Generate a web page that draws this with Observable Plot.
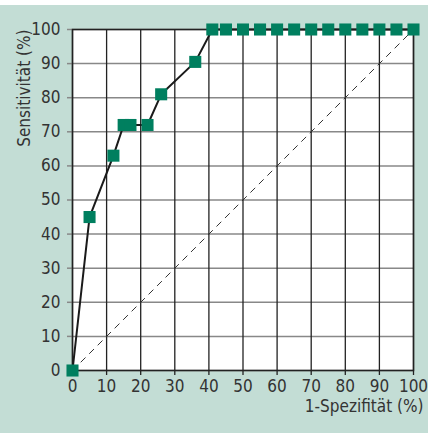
<!DOCTYPE html>
<html>
<head>
<meta charset="utf-8">
<script src="https://cdn.jsdelivr.net/npm/d3@7"></script>
<script src="https://cdn.jsdelivr.net/npm/@observablehq/plot@0.6"></script>
<style>
  html, body { margin: 0; padding: 0; background: #ffffff; }
  body { padding-top: 5px; }
  #chart svg { display: block; }
</style>
</head>
<body>
<div id="chart"></div>
<script>
// 1-Spezifität (%) and Sensitivität (%) of the ROC points
const spez = [0, 5, 12, 15, 17, 22, 26, 36, 41, 45, 50, 55, 60, 65, 70, 75, 80, 85, 90, 95, 100];
const sens = [0, 45, 63, 72, 72, 72, 81, 90.5, 100, 100, 100, 100, 100, 100, 100, 100, 100, 100, 100, 100, 100];
const diagX = [0, 100];
const diagY = [0, 100];
const ticks = [0, 10, 20, 30, 40, 50, 60, 70, 80, 90, 100];
const xLabel = "1-Spezifität (%)";
const yLabel = "Sensitivität (%)";

const points = spez.map((x, i) => ({x, y: sens[i]}));
const diag = diagX.map((x, i) => ({x, y: diagY[i]}));

const chart = Plot.plot({
  width: 428,
  height: 428,
  marginLeft: 72,
  marginRight: 15,
  marginTop: 24,
  marginBottom: 63,
  style: {
    background: "#c3ddd5",
    fontFamily: "'Liberation Sans Narrow', 'DejaVu Sans Condensed', sans-serif",
    fontSize: "17px",
    color: "#333"
  },
  x: {domain: [0, 100]},
  y: {domain: [0, 100]},
  marks: [
    Plot.frame({fill: "white", stroke: null}),
    Plot.gridY(ticks, {stroke: "#888", strokeOpacity: 1, strokeWidth: 1.5}),
    Plot.gridX(ticks, {stroke: "#222", strokeOpacity: 1, strokeWidth: 1.3}),
    Plot.axisX(ticks, {tickSize: 5, tickPadding: 4, label: null, stroke: "#222", strokeWidth: 1.3}),
    Plot.axisY(ticks, {tickSize: 5, tickPadding: 7, label: null, stroke: "#888", strokeWidth: 1.5}),
    Plot.frame({stroke: "#222", strokeWidth: 1.5}),
    Plot.line(diag, {x: "x", y: "y", stroke: "#333", strokeWidth: 1, strokeDasharray: "6,6"}),
    Plot.line(points, {x: "x", y: "y", stroke: "#1a1a1a", strokeWidth: 2}),
    Plot.dot(points, {x: "x", y: "y", symbol: "square", r: 6.8, fill: "#007f5f", stroke: null}),
    Plot.text([xLabel], {frameAnchor: "bottom-right", textAnchor: "end", dx: 10, dy: 41, fill: "#333", fontSize: 17}),
    Plot.text([yLabel], {frameAnchor: "top-left", rotate: -90, textAnchor: "end", dx: -55, dy: 0, fill: "#333", fontSize: 17})
  ]
});
document.getElementById("chart").appendChild(chart);
</script>
</body>
</html>
